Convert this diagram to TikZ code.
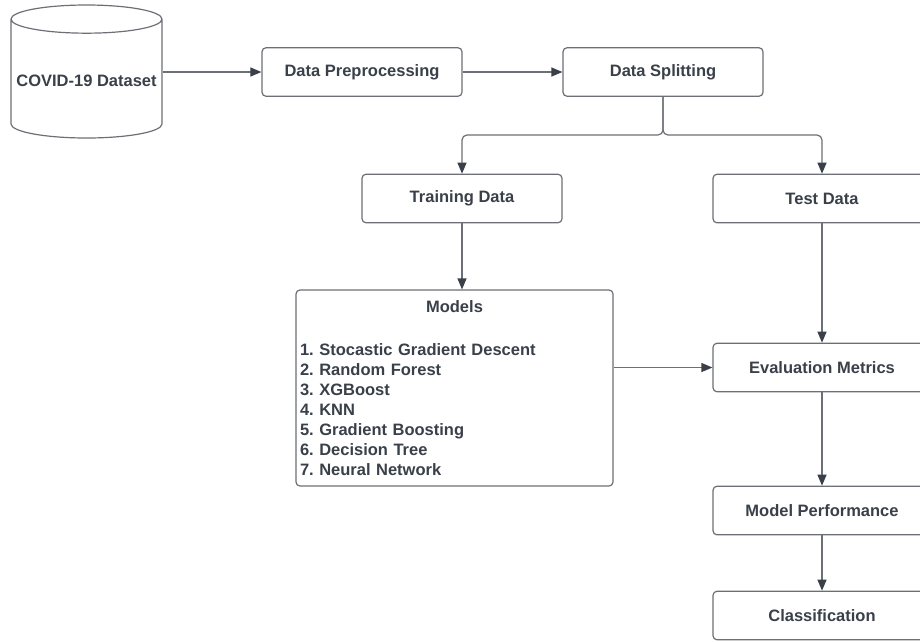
\documentclass[tikz,border=0pt]{standalone}
\usepackage{fontspec}
\setmainfont{Liberation Sans}
\usetikzlibrary{arrows.meta,shapes.geometric}
\definecolor{ink}{RGB}{58,64,73}
\definecolor{edge}{RGB}{108,112,118}
\tikzset{
  flownode/.style = {align=center, inner sep=4pt, text centered, text=ink,
    font=\fontsize{16.5}{20}\selectfont\bfseries\frenchspacing, draw=edge},
  bx/.style = {flownode, rectangle, rounded corners=4pt,
    minimum width=200pt, minimum height=48.5pt},% plain step box
  wbx/.style = {bx, minimum width=218pt},% right column, runs past the edge
  db/.style = {flownode, cylinder, shape border rotate=90, aspect=0.19,
    minimum width=151pt, minimum height=133pt}% dataset drum
}
\begin{document}
\begin{tikzpicture}[x=1pt,y=-1pt,->,>={Triangle[length=11pt,width=9pt,color=ink]},
  edge,line width=1.2pt]
\useasboundingbox[fill=white] (0,0) rectangle (920,641);
\clip (0,0) rectangle (920,641);
\node [db, anchor=shape center] (dataset) at (86.5,71.5) {COVID-19 Dataset};
\node [bx] (prep) at (362,72) {Data Preprocessing};
\node [bx] (split) at (663,72) {Data Splitting};
\node [bx] (train) at (462,198.5) {Training Data};
\node [wbx] (test) at (822,198.5) {Test Data};
\node [bx, align=left, text width=309pt, minimum width=317pt, minimum height=196pt]
  (models) at (454.5,388) {\makebox[309pt]{Models}\\[23pt]
  1. Stocastic Gradient Descent\\
  2. Random Forest\\
  3. XGBoost\\
  4. KNN\\
  5. Gradient Boosting\\
  6. Decision Tree\\
  7. Neural Network};
\node [wbx] (eval) at (822,367.5) {Evaluation Metrics};
\node [wbx] (perf) at (822,510.5) {Model Performance};
\node [wbx] (cls) at (822,615.5) {Classification};
\coordinate (fork) at (663,135);
% connectors
\draw (prep -| dataset.east) -- (prep);
\draw (prep) -- (split);
\draw [rounded corners=5pt] (split) -- (fork) -| (train);
\draw [rounded corners=5pt] (split) -- (fork) -| (test);
\draw (train) -- (train |- models.north);
\draw (models.east |- eval) -- (eval);
\draw (test) -- (eval);
\draw (eval) -- (perf);
\draw (perf) -- (cls);
\end{tikzpicture}
\end{document}
